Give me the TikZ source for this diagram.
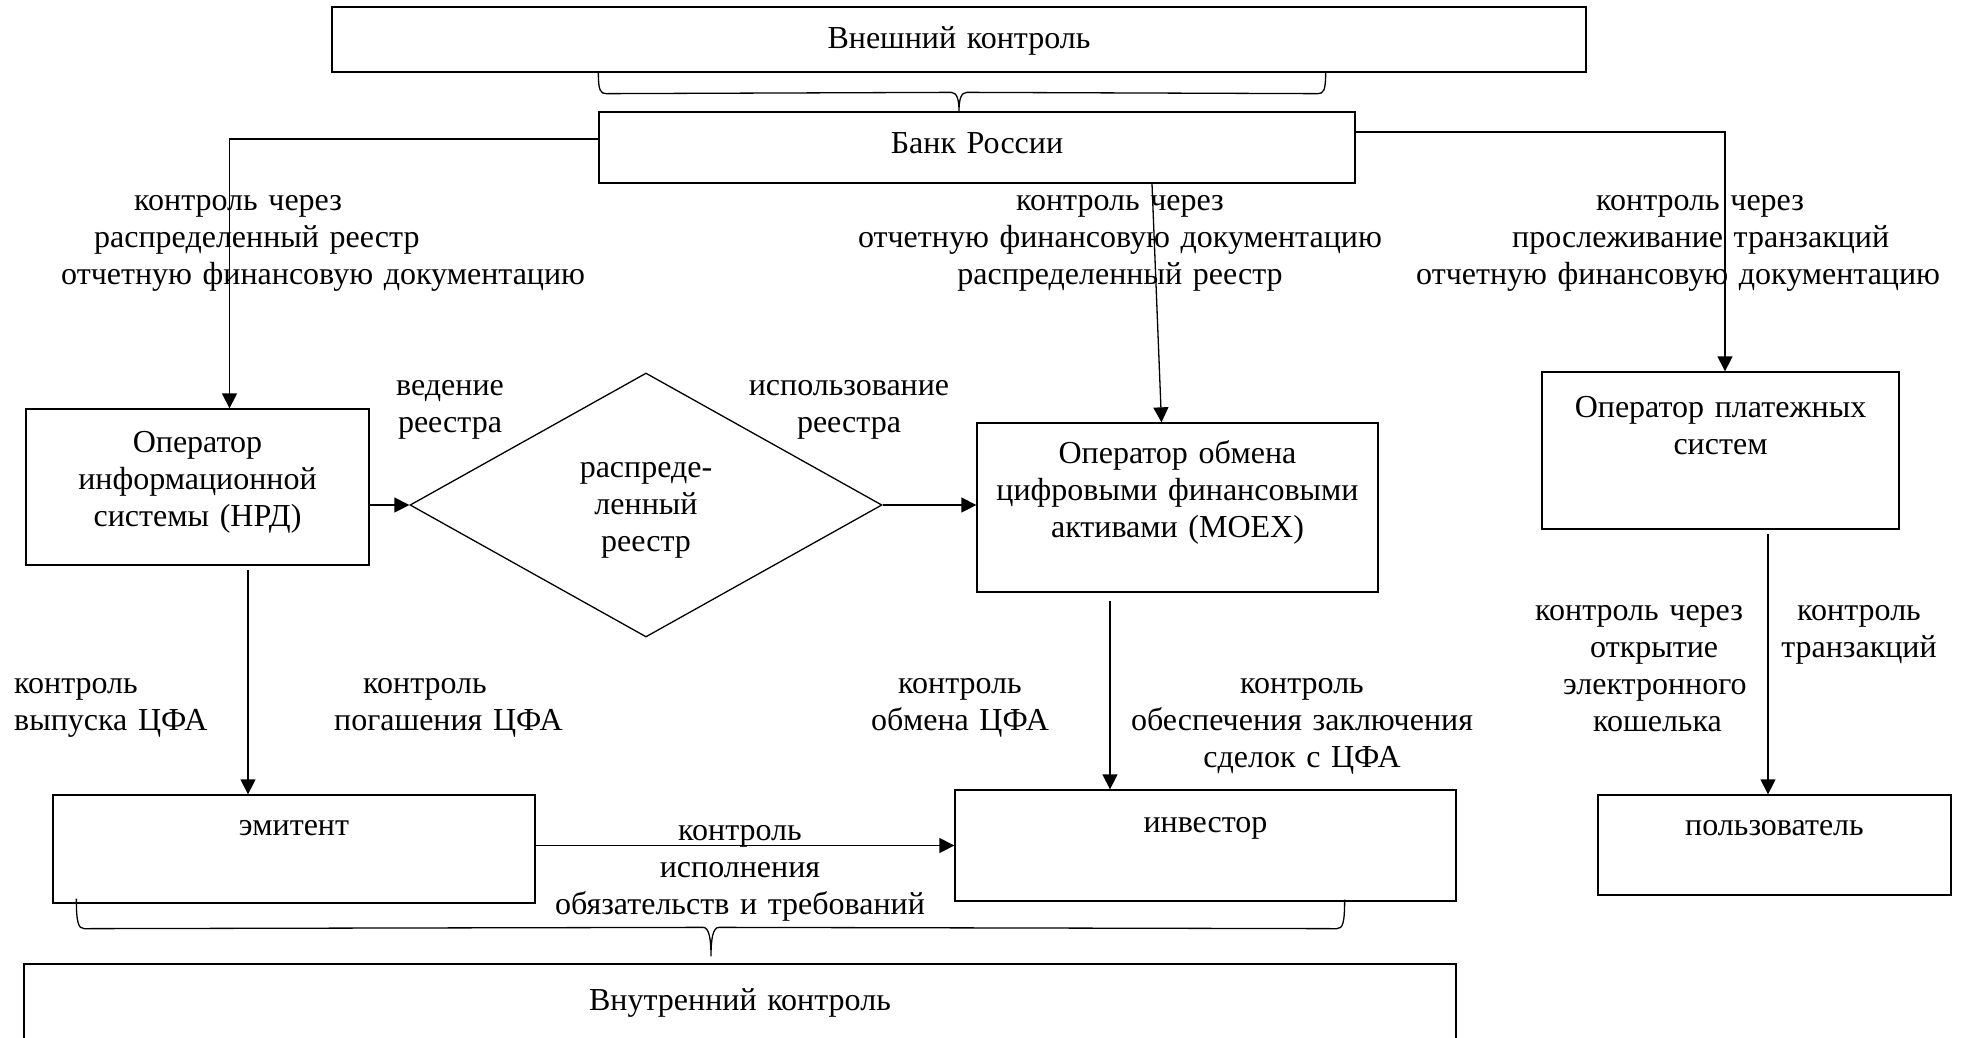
\documentclass[tikz,border=0pt]{standalone}
\usepackage{fontspec}
\setmainfont{Liberation Serif}
\usetikzlibrary{shapes, shapes.geometric, arrows, arrows.meta, calc, positioning}
\colorlet{drawColor}{black}
\tikzstyle{box}=[rectangle, align=center, inner sep=0pt, draw=drawColor, line width=1.3pt]
\tikzstyle{fRegistry}=[diamond, shape aspect=1.8, align=center, inner sep=0pt, draw=drawColor,
line width=1.3pt, minimum width=472pt, minimum height=264pt]
\tikzstyle{note}=[align=center, inner sep=0pt, anchor=base, text width=600pt]
\tikzstyle{arrow}=[-{Triangle[length=15pt,width=15pt]}, line width=1.3pt, draw=drawColor]
\tikzstyle{line}=[line width=1.3pt, draw=drawColor]

\begin{document}
\begin{tikzpicture}[x=1pt, y=-1pt, font=\fontsize{32}{37}\selectfont]
    \useasboundingbox (0,0) rectangle (1966,1037);
    \clip (0,0) rectangle (1966,1037);
    % boxes
    \node (extControl) [box, text width=1254pt, text height=41pt, text depth=24pt] at (959,39.5) {Внешний контроль};
    \node (bankRussia) [box, text width=756pt, text height=41pt, text depth=30pt] at (977,147.5) {Банк России};
    \node (operatorNRD) [box, text width=343pt, text height=43pt, text depth=113pt] at (197.5,487) {Оператор\\ информационной\\ системы (НРД)};
    \node (registry) [fRegistry, text width=170pt, text height=30pt, text depth=86pt] at (646,505) {распреде-\\ленный\\реестр};
    \node (operatorMOEX) [box, text width=401pt, text height=40pt, text depth=129pt] at (1177.5,507.5) {Оператор обмена\\ цифровыми финансовыми\\ активами (MOEX)};
    \node (operatorPay) [box, text width=357pt, text height=45pt, text depth=112pt] at (1720.5,450.5) {Оператор платежных\\ систем};
    \node (issuer) [box, text width=482pt, text height=40pt, text depth=68pt] at (294,849) {эмитент};
    \node (investor) [box, text width=501pt, text height=42pt, text depth=69pt] at (1205.5,845.5) {инвестор};
    \node (user) [box, text width=353pt, text height=40pt, text depth=60pt] at (1774.5,845) {пользователь};
    \node (intControl) [box, text width=1432pt, text height=46pt, text depth=70pt] at (740,1022) {Внутренний контроль};
    % labels
    \node (noteLeft) [note, align=left, anchor=base west] at (61,210) {\hspace*{73pt}контроль через\\ \hspace*{33pt}распределенный реестр\\ отчетную финансовую документацию};
    \node (noteMid) [note] at (1120,210) {контроль через\\ отчетную финансовую документацию\\ распределенный реестр};
    \node (noteRight) [note, align=left, anchor=base west] at (1416,210) {\hspace*{180pt}контроль через\\ \hspace*{96pt}прослеживание транзакций\\ отчетную финансовую документацию};
    \node (noteKeep) [note] at (450,395) {ведение\\ реестра};
    \node (noteUse) [note] at (849,395) {использование\\ реестра};
    \node (noteIssue) [note, align=left, anchor=base west] at (14,693) {контроль\\ выпуска ЦФА};
    \node (noteRedeem) [note, align=left, anchor=base west] at (334,693) {\hspace*{29pt}контроль\\ погашения ЦФА};
    \node (noteExchange) [note] at (960,693) {контроль\\ обмена ЦФА};
    \node (noteDeals) [note] at (1302,693) {контроль\\ обеспечения заключения\\ сделок с ЦФА};
    \node (noteDuties) [note] at (740,840) {контроль\\ исполнения\\ обязательств и требований};
    \node (noteWallet) [note, align=left, anchor=base west] at (1535,620) {контроль через\\ \hspace*{55pt}открытие\\ \hspace*{28pt}электронного\\ \hspace*{58pt}кошелька};
    \node (noteTrans) [note] at (1859,620) {контроль\\ транзакций};
    % connectors
    \draw[arrow] ($(bankRussia.west)+(0,-8.5)$) -| ($(operatorNRD.north)+(32,0)$);
    \draw[arrow] ($(bankRussia.south)+(175,0)$) -- ($(operatorMOEX.north)+(-16,0)$);
    \draw[arrow] ($(bankRussia.east)+(0,-15.5)$) -| ($(operatorPay.north)+(4.5,0)$);
    \draw[arrow] (operatorNRD.east |- registry.west) -- (registry.west);
    \draw[arrow] (registry.east) -- (operatorMOEX.west |- registry.east);
    \draw[arrow] ($(operatorNRD.south)+(50.5,4)$) -- ($(issuer.north)+(-46,0)$);
    \draw[arrow] ($(operatorMOEX.south)+(-67.5,8)$) -- ($(investor.north)+(-95.5,0)$);
    \draw[arrow] ($(operatorPay.south)+(47.5,4)$) -- ($(user.north)+(-6.5,0)$);
    \draw[arrow] (issuer.east |- investor.west) -- (investor.west);
    % braces
    \coordinate (topTip) at (extControl.south |- bankRussia.north);
    \draw[line] ($(extControl.south west)+(267,0)$) .. controls +(0,18) and +(-6,0) .. ($(extControl.south west)+(275,21)$)
      -- ($(topTip)+(-8,-19)$) .. controls +(6,0) and +(0,-12) .. (topTip)
      .. controls +(0,-12) and +(-6,0) .. ($(topTip)+(8,-19)$)
      -- ($(extControl.south east)+(-269,21)$) .. controls +(6,0) and +(0,18) .. ($(extControl.south east)+(-261,0)$);
    \coordinate (bottomTip) at ($(intControl.north)+(-29,-7)$);
    \draw[line] ($(issuer.south west)+(24,-5)$) .. controls +(0,24) and +(-6,0) .. ($(issuer.south west)+(32,25)$)
      -- ($(bottomTip)+(-8,-29)$) .. controls +(6,0) and +(0,-18) .. (bottomTip)
      .. controls +(0,-18) and +(-6,0) .. ($(bottomTip)+(8,-29)$)
      -- ($(investor.south east)+(-120,27)$) .. controls +(6,0) and +(0,24) .. ($(investor.south east)+(-112,-2)$);
  \end{tikzpicture}
\end{document}
